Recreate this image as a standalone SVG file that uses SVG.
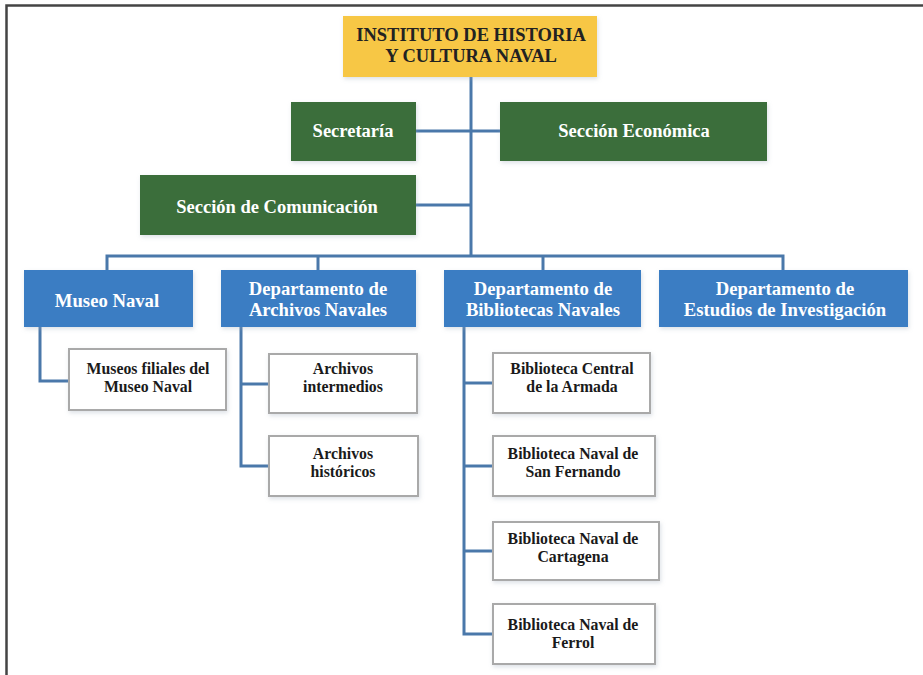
<svg xmlns="http://www.w3.org/2000/svg" width="923" height="675" viewBox="0 0 923 675">
<defs>
<filter id="sh" x="-10%" y="-10%" width="120%" height="130%">
<feDropShadow dx="1" dy="2" stdDeviation="2" flood-color="#9aa8b8" flood-opacity="0.35"/>
</filter>
<style>
.t{font-family:"Liberation Serif","Times New Roman",serif;font-weight:bold;text-anchor:middle}
.title{fill:#F7C744;filter:url(#sh)}
.green{fill:#3B6E3B;filter:url(#sh)}
.blue{fill:#3A7DC3;filter:url(#sh)}
.white{fill:#ffffff;stroke:#a9a9a9;stroke-width:2;filter:url(#sh)}
.tt{font-size:18.5px;fill:#222}
.tg{font-size:18.5px;fill:#ffffff}
.tb{font-size:18.7px;fill:#ffffff}
.tw{font-size:15.8px;fill:#1a1a1a}
.c{fill:none;stroke:#4A78AA;stroke-width:3}
.frame{fill:none;stroke:#444;stroke-width:2.5}
</style>
</defs>
<rect width="923" height="675" fill="#ffffff"/>
<path class="frame" d="M6.5,675 V5.5 H923"/>

<g id="connectors">
<path class="c" d="M471,77 V256"/>
<path class="c" d="M416,131 H500"/>
<path class="c" d="M416,205 H471"/>
<path class="c" d="M107,270 V256 H783 V270"/>
<path class="c" d="M318,256 V270"/>
<path class="c" d="M543,256 V270"/>
<path class="c" d="M40,327 V381 H69"/>
<path class="c" d="M241,327 V466 H269"/>
<path class="c" d="M241,384 H269"/>
<path class="c" d="M464,327 V634 H493"/>
<path class="c" d="M464,383 H493"/>
<path class="c" d="M464,466 H493"/>
<path class="c" d="M464,551 H493"/>
</g>

<g id="instituto">
<rect class="title" x="343" y="16" width="254" height="61"/>
<text class="t tt" x="471" y="41">INSTITUTO DE HISTORIA</text>
<text class="t tt" x="471" y="62">Y CULTURA NAVAL</text>
</g>

<g id="secretaria">
<rect class="green" x="291" y="102" width="125" height="59"/>
<text class="t tg" x="353" y="137">Secretaría</text>
</g>

<g id="seccion-economica">
<rect class="green" x="500" y="102" width="267" height="59"/>
<text class="t tg" x="634" y="137">Sección Económica</text>
</g>

<g id="seccion-comunicacion">
<rect class="green" x="140" y="175" width="276" height="60"/>
<text class="t tg" x="277" y="213">Sección de Comunicación</text>
</g>

<g id="museo-naval">
<rect class="blue" x="24" y="270" width="169" height="57"/>
<text class="t tb" x="107" y="307">Museo Naval</text>
</g>

<g id="archivos-navales">
<rect class="blue" x="221" y="270" width="195" height="57"/>
<text class="t tb" x="318" y="295">Departamento de</text>
<text class="t tb" x="318" y="316">Archivos Navales</text>
</g>

<g id="bibliotecas-navales">
<rect class="blue" x="444" y="270" width="197" height="57"/>
<text class="t tb" x="543" y="295">Departamento de</text>
<text class="t tb" x="543" y="316">Bibliotecas Navales</text>
</g>

<g id="estudios-investigacion">
<rect class="blue" x="659" y="270" width="249" height="57"/>
<text class="t tb" x="785" y="295">Departamento de</text>
<text class="t tb" x="785" y="316">Estudios de Investigación</text>
</g>

<g id="museos-filiales">
<rect class="white" x="69" y="349" width="157" height="61"/>
<text class="t tw" x="148" y="374">Museos filiales del</text>
<text class="t tw" x="148" y="392">Museo Naval</text>
</g>

<g id="archivos-intermedios">
<rect class="white" x="269" y="354" width="148" height="59"/>
<text class="t tw" x="343" y="374">Archivos</text>
<text class="t tw" x="343" y="392">intermedios</text>
</g>

<g id="archivos-historicos">
<rect class="white" x="269" y="436" width="149" height="60"/>
<text class="t tw" x="343" y="459">Archivos</text>
<text class="t tw" x="343" y="477">históricos</text>
</g>

<g id="biblioteca-central">
<rect class="white" x="493" y="353" width="157" height="60"/>
<text class="t tw" x="572" y="374">Biblioteca Central</text>
<text class="t tw" x="572" y="392">de la Armada</text>
</g>

<g id="biblioteca-san-fernando">
<rect class="white" x="493" y="436" width="162" height="60"/>
<text class="t tw" x="573" y="459">Biblioteca Naval de</text>
<text class="t tw" x="573" y="477">San Fernando</text>
</g>

<g id="biblioteca-cartagena">
<rect class="white" x="493" y="522" width="166" height="58"/>
<text class="t tw" x="573" y="544">Biblioteca Naval de</text>
<text class="t tw" x="573" y="562">Cartagena</text>
</g>

<g id="biblioteca-ferrol">
<rect class="white" x="493" y="604" width="162" height="60"/>
<text class="t tw" x="573" y="630">Biblioteca Naval de</text>
<text class="t tw" x="573" y="648">Ferrol</text>
</g>
</svg>
